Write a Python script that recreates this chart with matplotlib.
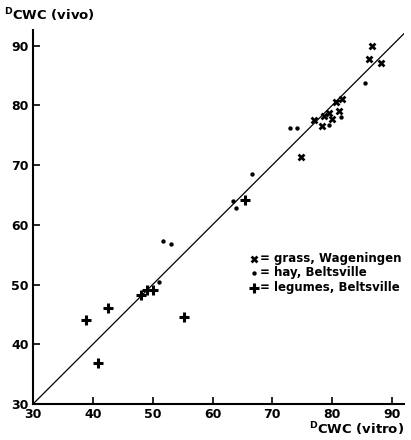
import matplotlib
matplotlib.use('Agg')
import matplotlib.pyplot as plt

# grass, Wageningen (x)
grass_x = [86.6, 86.1, 88.2, 80.6, 81.6, 81.2, 76.9, 78.7, 79.5, 80.0, 78.3, 74.8]
grass_y = [90.0, 87.8, 87.0, 80.5, 81.0, 79.1, 77.6, 78.2, 78.7, 77.7, 76.6, 71.4]

# hay, Beltsville (dots)
hay_x = [51.1, 51.8, 53.1, 63.5, 63.9, 66.6, 73.0, 74.1, 79.4, 81.4, 85.4]
hay_y = [50.5, 57.3, 56.8, 63.9, 62.8, 68.5, 76.2, 76.2, 76.7, 78.1, 83.8]

# legumes, Beltsville (+)
leg_x = [38.8, 40.8, 42.6, 48.1, 49.0, 50.1, 55.3, 65.5]
leg_y = [44.0, 36.8, 46.1, 48.3, 49.1, 49.1, 44.6, 64.2]

ticks = [30, 40, 50, 60, 70, 80, 90]

plt.rcParams['font.family'] = 'DejaVu Sans'
plt.rcParams['font.weight'] = 'bold'
plt.rcParams['mathtext.default'] = 'regular'

fig = plt.figure(figsize=(4.11, 4.40), dpi=100)
ax = fig.add_axes([0.0803, 0.0818, 0.9027, 0.85])

ax.plot([30, 100], [30, 100], color='black', lw=0.9)

ax.scatter(grass_x, grass_y, marker='X', s=32, color='black', linewidths=0,
           label='= grass, Wageningen')
ax.scatter(hay_x, hay_y, marker='o', s=10, color='black', linewidths=0,
           label='= hay, Beltsville')
ax.scatter(leg_x, leg_y, marker='+', s=50, color='black', linewidths=2.2,
           label='= legumes, Beltsville')

ax.set_xlim(30, 92)
ax.set_ylim(30, 92.6)
ax.set_xticks(ticks)
ax.set_yticks(ticks)
ax.tick_params(direction='in', length=5, width=1.2, labelsize=9, pad=3)
for lab in ax.get_xticklabels() + ax.get_yticklabels():
    lab.set_fontweight('bold')

ax.spines['top'].set_visible(False)
ax.spines['right'].set_visible(False)
ax.spines['left'].set_linewidth(1.5)
ax.spines['bottom'].set_linewidth(1.5)

leg = ax.legend(loc='upper left', bbox_to_anchor=(0.57, 0.42), frameon=False,
                handletextpad=0.1, handlelength=0.8, labelspacing=0.15,
                borderaxespad=0, prop={'size': 8.5, 'weight': 'bold'})

fig.text(0.01, 0.965, r'$^{D}$CWC (vivo)', fontsize=9.5, fontweight='bold',
         va='center', ha='left')
fig.text(0.983, 0.025, r'$^{D}$CWC (vitro)', fontsize=9.5, fontweight='bold',
         va='center', ha='right')

fig.savefig('out.png', dpi=100)
